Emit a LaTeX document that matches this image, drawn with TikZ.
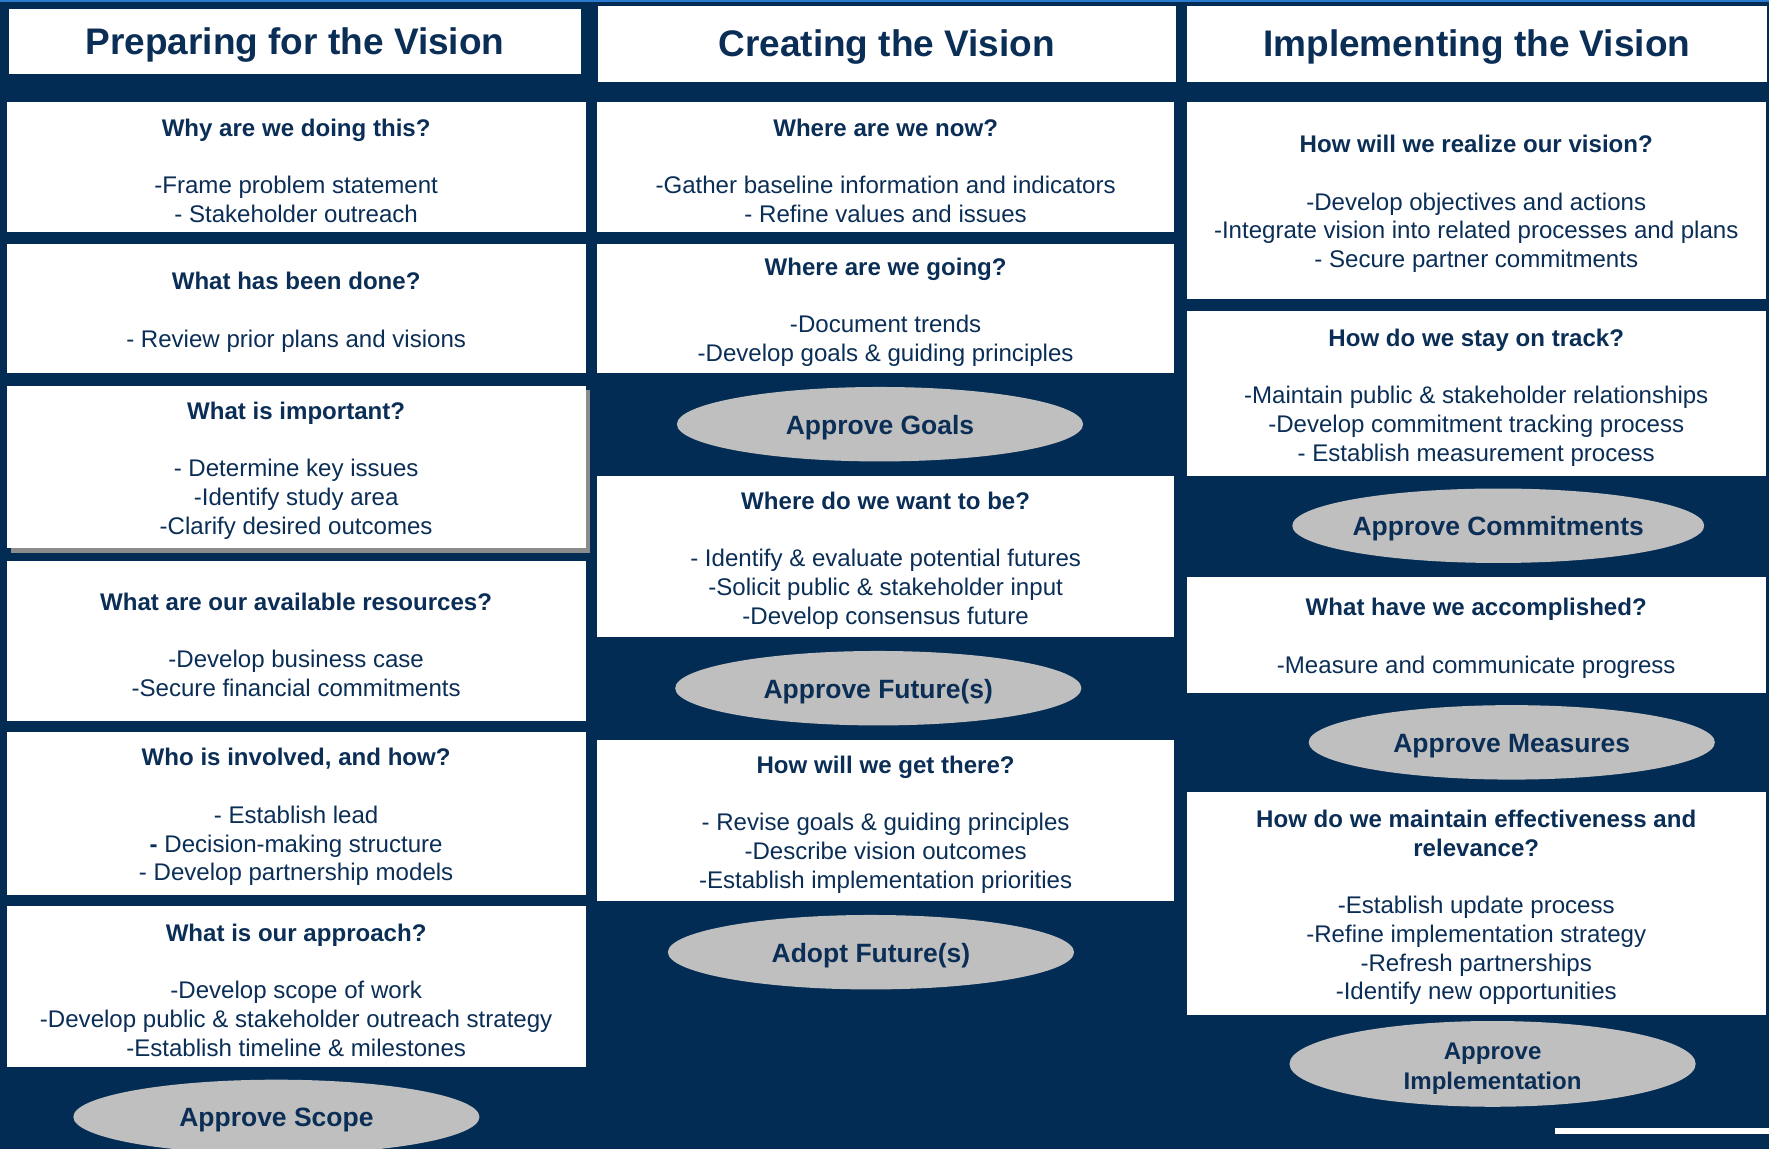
\documentclass[tikz,border=0pt]{standalone}
\usepackage{fontspec}
\setmainfont{Liberation Sans}
\usetikzlibrary{shapes.geometric,shadows}
\definecolor{navy}{HTML}{032C54}
\definecolor{ink}{HTML}{0B2E56}
\definecolor{pill}{HTML}{BFBFBF}
\definecolor{topblue}{HTML}{2A7BD0}
\newcommand{\uu}{0.75pt}
\newcommand{\ctitle}[1]{\rule{0pt}{16.5pt}\textbf{#1}}
\tikzset{
  card/.style 2 args={fill=white, draw=none, inner sep=0pt, align=center, text=ink,
    minimum width=#1*\uu, minimum height=#2*\uu, font=\fontsize{16}{19.1}\selectfont},
  head/.style 2 args={fill=white, draw=none, inner sep=0pt, align=center, text=ink,
    minimum width=#1*\uu, minimum height=#2*\uu, font=\bfseries\fontsize{24.6}{29}\selectfont,
    execute at begin node={\rule{0pt}{22pt}}},
  pillnode/.style={ellipse, fill=pill, draw=none, inner sep=0pt, minimum width=360*\uu,
    minimum height=66*\uu, text=ink, align=center, font=\bfseries\fontsize{17.6}{19.5}\selectfont,
    execute at begin node={\rule{0pt}{17pt}}},
}
\begin{document}
\begin{tikzpicture}[x=0.75pt,y=-0.75pt]
\useasboundingbox (0,0) rectangle (1568,1018);
\fill[navy] (0,0) rectangle (1568,1018);
\fill[topblue] (0,0) rectangle (1568,1.5);

% Column 1
\node[head={507}{58}] (h1) at (261.5,37) {Preparing for the Vision};
\node[card={513}{116}] (p1) at (262.5,148) {\ctitle{Why are we doing this?}\\[19.1pt]-Frame problem statement\\- Stakeholder outreach};
\node[card={513}{115}] (p2) at (262.5,273.5) {\ctitle{What has been done?}\\[19.1pt]- Review prior plans and visions};
\node[card={513}{144}, drop shadow={shadow xshift=3pt, shadow yshift=-3pt, fill=gray!90, opacity=1}] (p3) at (262.5,414) {\ctitle{What is important?}\\[19.1pt]- Determine key issues\\-Identify study area\\-Clarify desired outcomes};
\node[card={513}{142}] (p4) at (262.5,568) {\ctitle{What are our available resources?}\\[19.1pt]-Develop business case\\-Secure financial commitments};
\node[card={513}{144}] (p5) at (262.5,721) {\ctitle{Who is involved, and how?}\\[19.1pt]- Establish lead\\\textbf{-} Decision-making structure\\- Develop partnership models};
\node[card={513}{143}] (p6) at (262.5,874.5) {\ctitle{What is our approach?}\\[19.1pt]-Develop scope of work\\-Develop public \& stakeholder outreach strategy\\-Establish timeline \& milestones};
\node[pillnode] (scope) at (245,990) {Approve Scope};

% Column 2
\node[head={512}{68}] (h2) at (786,39) {Creating the Vision};
\node[card={512}{116}] (c1) at (785,148) {\ctitle{Where are we now?}\\[19.1pt]-Gather baseline information and indicators\\- Refine values and issues};
\node[card={512}{115}] (c2) at (785,273.5) {\ctitle{Where are we going?}\\[19.1pt]-Document trends\\-Develop goals \& guiding principles};
\node[pillnode] (goals) at (780,376) {Approve Goals};
\node[card={512}{143}] (c3) at (785,493.5) {\ctitle{Where do we want to be?}\\[19.1pt]- Identify \& evaluate potential futures\\-Solicit public \& stakeholder input\\-Develop consensus future};
\node[pillnode] (fut) at (778.5,610) {Approve Future(s)};
\node[card={512}{143}] (c4) at (785,727.5) {\ctitle{How will we get there?}\\[19.1pt]- Revise goals \& guiding principles\\-Describe vision outcomes\\-Establish implementation priorities};
\node[pillnode] (adopt) at (772,844) {Adopt Future(s)};

% Column 3
\node[head={514}{68}] (h3) at (1309,39) {Implementing the Vision};
\node[card={513}{175}] (i1) at (1308.5,177.5) {\ctitle{How will we realize our vision?}\\[19.1pt]-Develop objectives and actions\\-Integrate vision into related processes and plans\\- Secure partner commitments};
\node[card={513}{146}] (i2) at (1308.5,349) {\ctitle{How do we stay on track?}\\[19.1pt]-Maintain public \& stakeholder relationships\\-Develop commitment tracking process\\- Establish measurement process};
\node[pillnode] (commit) at (1328,466) {Approve Commitments};
\node[card={513}{103}] (i3) at (1308.5,562.5) {\ctitle{What have we accomplished?}\\[19.1pt]-Measure and communicate progress};
\node[pillnode] (meas) at (1340,658) {Approve Measures};
\node[card={513}{198}] (i4) at (1308.5,801) {\ctitle{How do we maintain effectiveness and}\\\textbf{relevance?}\\[19.1pt]-Establish update process\\-Refine implementation strategy\\-Refresh partnerships\\-Identify new opportunities};
\node[pillnode, font=\bfseries\fontsize{16}{19.5}\selectfont] (impl) at (1323,943) {\rule{0pt}{17.5pt}Approve\\Implementation};

% logo bar (bottom right)
\fill[white] (1378,1000) rectangle (1568,1005);
\end{tikzpicture}
\end{document}
